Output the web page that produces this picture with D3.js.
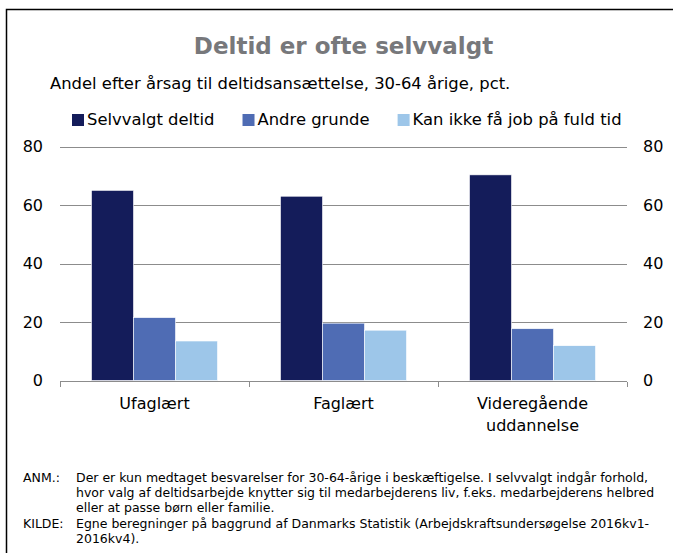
<!DOCTYPE html>
<html>
<head>
  <meta charset="utf-8">
  <title>Deltid er ofte selvvalgt</title>
  <script src="https://cdn.jsdelivr.net/npm/d3@7"></script>
  <style>
    body { margin: 0; background: #ffffff; }
    svg text { font-family: "DejaVu Sans", Verdana, sans-serif; fill: #000; }
    .title { font-weight: bold; fill: #77787b; text-anchor: middle; }
    .grid line { stroke: #8c8c8c; stroke-width: 1; shape-rendering: crispEdges; }
    .axis path, .axis line { stroke: #8c8c8c; shape-rendering: crispEdges; }
    .axis text { font-size: 16px; }
    .note text { font-size: 12.5px; }
  </style>
</head>
<body>
<script>
  // Data
  var categories = ["Ufaglært", "Faglært", "Videregående uddannelse"];
  var categoryLines = [["Ufaglært"], ["Faglært"], ["Videregående", "uddannelse"]];
  var seriesNames = ["Selvvalgt deltid", "Andre grunde", "Kan ikke få job på fuld tid"];
  var selvvalgt = [65.0, 63.0, 70.3];
  var andre = [21.5, 19.6, 17.7];
  var kanIkke = [13.5, 17.2, 11.9];
  var yTicks = [0, 20, 40, 60, 80];
  var colors = ["#141c5a", "#4f6cb4", "#9dc6e9"];

  var titleText = "Deltid er ofte selvvalgt";
  var subtitleText = "Andel efter årsag til deltidsansættelse, 30-64 årige, pct.";
  var notes = [
    ["ANM.:", "Der er kun medtaget besvarelser for 30-64-årige i beskæftigelse. I selvvalgt indgår forhold,"],
    ["", "hvor valg af deltidsarbejde knytter sig til medarbejderens liv, f.eks. medarbejderens helbred"],
    ["", "eller at passe børn eller familie."],
    ["KILDE:", "Egne beregninger på baggrund af Danmarks Statistik (Arbejdskraftsundersøgelse 2016kv1-"],
    ["", "2016kv4)."]
  ];

  var series = [selvvalgt, andre, kanIkke];

  var width = 673, height = 553;
  var plotLeft = 60, plotRight = 627, plotTop = 146.5, plotBottom = 380.5;

  var svg = d3.select("body").append("svg")
      .attr("width", width)
      .attr("height", height);

  // frame (left and top edge only)
  svg.append("path")
      .attr("d", "M6.5," + height + "V9.5H" + width)
      .attr("fill", "none")
      .attr("stroke", "#000")
      .attr("stroke-width", 1.5);

  // title + subtitle
  svg.append("text")
      .attr("class", "title")
      .attr("x", (plotLeft + plotRight) / 2)
      .attr("y", 54)
      .style("font-size", "23px")
      .text(titleText);

  svg.append("text")
      .attr("x", 50)
      .attr("y", 89)
      .style("font-size", "16.4px")
      .text(subtitleText);

  // scales
  var x0 = d3.scaleBand()
      .domain(categories)
      .range([plotLeft, plotRight])
      .paddingInner(0)
      .paddingOuter(0);

  var x1 = d3.scaleBand()
      .domain(d3.range(series.length))
      .range([0, x0.bandwidth()])
      .paddingOuter(0.75)
      .paddingInner(0);

  var y = d3.scaleLinear()
      .domain([0, 80])
      .range([plotBottom, plotTop]);

  // gridlines
  svg.append("g")
      .attr("class", "grid")
      .selectAll("line")
      .data(yTicks.filter(function(d) { return d > 0; }))
      .enter().append("line")
      .attr("x1", plotLeft)
      .attr("x2", plotRight)
      .attr("y1", function(d) { return Math.round(y(d)) + 0.5; })
      .attr("y2", function(d) { return Math.round(y(d)) + 0.5; });

  // bars
  var groups = svg.append("g").selectAll("g")
      .data(categories)
      .enter().append("g")
      .attr("transform", function(d) { return "translate(" + x0(d) + ",0)"; });

  groups.selectAll("rect")
      .data(function(d, i) { return series.map(function(s, j) { return { k: j, v: s[i] }; }); })
      .enter().append("rect")
      .attr("x", function(d) { return x1(d.k); })
      .attr("width", x1.bandwidth())
      .attr("y", function(d) { return y(d.v); })
      .attr("height", function(d) { return y(0) - y(d.v); })
      .attr("fill", function(d) { return colors[d.k]; })
      .attr("stroke", "#ffffff")
      .attr("stroke-width", 0.6);

  // y axes, left and right
  var yLeft = svg.append("g")
      .attr("class", "axis")
      .attr("transform", "translate(" + plotLeft + ",0)")
      .call(d3.axisLeft(y).tickValues(yTicks).tickSize(0).tickPadding(17));
  yLeft.select(".domain").remove();

  var yRight = svg.append("g")
      .attr("class", "axis")
      .attr("transform", "translate(" + plotRight + ",0)")
      .call(d3.axisRight(y).tickValues(yTicks).tickSize(0).tickPadding(16));
  yRight.select(".domain").remove();

  // x axis line with ticks at category boundaries
  var xAxis = svg.append("g")
      .attr("class", "axis")
      .attr("transform", "translate(0," + (Math.round(plotBottom) + 0.5) + ")");
  xAxis.append("line")
      .attr("x1", plotLeft).attr("x2", plotRight);
  xAxis.selectAll(".tick")
      .data(categories.concat([null]))
      .enter().append("line")
      .attr("x1", function(d) { return Math.round(d ? x0(d) : plotRight) + 0.5; })
      .attr("x2", function(d) { return Math.round(d ? x0(d) : plotRight) + 0.5; })
      .attr("y1", 0).attr("y2", 5);

  var labels = svg.append("g").selectAll("text")
      .data(categories)
      .enter().append("text")
      .attr("text-anchor", "middle")
      .attr("y", 409)
      .style("font-size", "16px");
  labels.each(function(d, i) {
    var t = d3.select(this);
    categoryLines[i].forEach(function(line, k) {
      t.append("tspan")
        .attr("x", x0(d) + x0.bandwidth() / 2)
        .attr("dy", k === 0 ? 0 : 22)
        .text(line);
    });
  });

  // legend
  var lx = 72;
  var legend = svg.append("g");
  seriesNames.forEach(function(name, i) {
    var g = legend.append("g").attr("transform", "translate(" + lx + ",114)");
    g.append("rect").attr("width", 12).attr("height", 12).attr("fill", colors[i]);
    var t = g.append("text")
        .attr("x", 15)
        .attr("y", 11)
        .style("font-size", "16.4px")
        .text(name);
    lx += 15 + t.node().getComputedTextLength() + 28;
  });

  // notes
  var noteG = svg.append("g").attr("class", "note");
  notes.forEach(function(n, i) {
    var yy = [482, 497, 512, 528, 543][i];
    if (n[0]) noteG.append("text").attr("x", 23).attr("y", yy).text(n[0]);
    noteG.append("text").attr("x", 76).attr("y", yy).text(n[1]);
  });
</script>
</body>
</html>
